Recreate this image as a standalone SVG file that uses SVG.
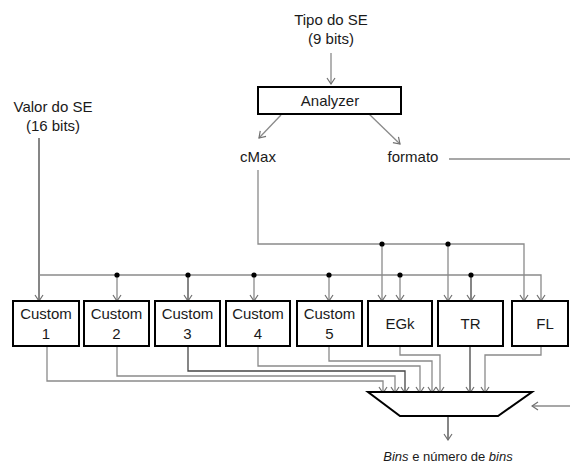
<svg xmlns="http://www.w3.org/2000/svg" width="570" height="466" viewBox="0 0 570 466">
<style>
text{font-family:"Liberation Sans",Arial,sans-serif;font-size:15px;fill:#1a1a1a;text-anchor:middle}
.box{fill:#fff;stroke:#000;stroke-width:2}
.w{fill:none;stroke:#8a8a8a;stroke-width:1.3}
.d{fill:none;stroke:#454545;stroke-width:1.3}
.dot{fill:#000}
</style>
<defs>
<marker id="a" markerWidth="10" markerHeight="10" refX="9" refY="5" orient="auto" markerUnits="userSpaceOnUse">
<path d="M3,1 L9,5 L3,9" fill="none" stroke="#707070" stroke-width="1.2"/>
</marker>
</defs>
<rect width="570" height="466" fill="#fff"/>
<g id="connectors">
<path class="w" d="M331,53 V84" marker-end="url(#a)"/>
<path class="w" d="M281,115 L259,138" marker-end="url(#a)"/>
<path class="w" d="M369,114 L400,144" marker-end="url(#a)"/>
<path class="w" d="M449,159 H570"/>
<path class="d" d="M39,138 V301" marker-end="url(#a)"/>
<path class="w" d="M39,275 H541 V301" marker-end="url(#a)"/>
<path class="w" d="M258,170 V244 H524 V301" marker-end="url(#a)"/>
<path class="w" d="M117,275 V301" marker-end="url(#a)"/>
<path class="d" d="M188,275 V301" marker-end="url(#a)"/>
<path class="w" d="M254,275 V301" marker-end="url(#a)"/>
<path class="w" d="M329,275 V301" marker-end="url(#a)"/>
<path class="w" d="M400,275 V301" marker-end="url(#a)"/>
<path class="d" d="M471,275 V301" marker-end="url(#a)"/>
<path class="w" d="M382,244 V301" marker-end="url(#a)"/>
<path class="w" d="M448,244 V301" marker-end="url(#a)"/>
<circle class="dot" cx="117" cy="275" r="2.6"/>
<circle class="dot" cx="188" cy="275" r="2.6"/>
<circle class="dot" cx="254" cy="275" r="2.6"/>
<circle class="dot" cx="329" cy="275" r="2.6"/>
<circle class="dot" cx="400" cy="275" r="2.6"/>
<circle class="dot" cx="471" cy="275" r="2.6"/>
<circle class="dot" cx="382" cy="244" r="2.6"/>
<circle class="dot" cx="448" cy="244" r="2.6"/>
<path class="w" d="M47,346 V381 H383 V393" marker-end="url(#a)"/>
<path class="w" d="M117,346 V376 H395 V393" marker-end="url(#a)"/>
<path class="d" d="M188,346 V371 H405 V393" marker-end="url(#a)"/>
<path class="w" d="M258,346 V366 H420 V393" marker-end="url(#a)"/>
<path class="w" d="M329,346 V361 H432 V393" marker-end="url(#a)"/>
<path class="w" d="M400,346 V355 H440 V393" marker-end="url(#a)"/>
<path class="d" d="M470,346 V393" marker-end="url(#a)"/>
<path class="w" d="M541,346 V355 H485 V393" marker-end="url(#a)"/>
<path class="w" d="M570,406 H532" marker-end="url(#a)"/>
<path class="d" d="M448,416 V440" marker-end="url(#a)"/>
</g>
<g id="tipo"><text x="331" y="25">Tipo do SE</text><text x="331" y="44">(9 bits)</text></g>
<g id="valor"><text x="53" y="112">Valor do SE</text><text x="53" y="131">(16 bits)</text></g>
<g id="analyzer"><rect class="box" x="258" y="87" width="143" height="27"/><text x="330" y="106">Analyzer</text></g>
<g id="cmax"><text x="258" y="162">cMax</text></g>
<g id="formato"><text x="413" y="162">formato</text></g>
<g id="custom1"><rect class="box" x="13" y="301" width="66" height="45"/><text x="46" y="319">Custom</text><text x="46" y="339">1</text></g>
<g id="custom2"><rect class="box" x="84" y="301" width="65" height="45"/><text x="116.5" y="319">Custom</text><text x="116.5" y="339">2</text></g>
<g id="custom3"><rect class="box" x="155" y="301" width="65" height="45"/><text x="187.5" y="319">Custom</text><text x="187.5" y="339">3</text></g>
<g id="custom4"><rect class="box" x="226" y="301" width="64" height="45"/><text x="258" y="319">Custom</text><text x="258" y="339">4</text></g>
<g id="custom5"><rect class="box" x="297" y="301" width="65" height="45"/><text x="329.5" y="319">Custom</text><text x="329.5" y="339">5</text></g>
<g id="egk"><rect class="box" x="368" y="301" width="64" height="45"/><text x="400" y="329">EGk</text></g>
<g id="tr"><rect class="box" x="438" y="301" width="65" height="45"/><text x="470.5" y="329">TR</text></g>
<g id="fl"><rect class="box" x="512" y="301" width="56" height="45"/><text x="545" y="329">FL</text></g>
<g id="mux"><polygon class="box" points="368,392 532,392 498,416 400,416"/></g>
<g id="out"><text x="448" y="461" style="font-size:13px"><tspan font-style="italic">Bins</tspan> e número de <tspan font-style="italic">bins</tspan></text></g>
</svg>
